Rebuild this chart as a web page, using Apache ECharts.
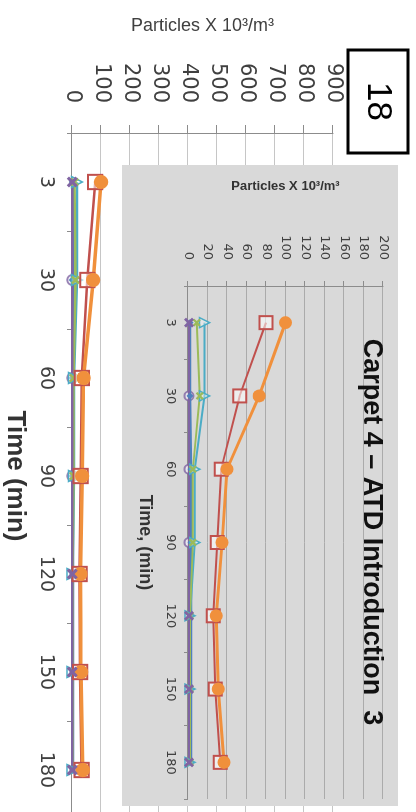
<!DOCTYPE html>
<html>
<head>
<meta charset="utf-8">
<script src="https://cdn.jsdelivr.net/npm/echarts@6/dist/echarts.min.js"></script>
<style>
  html, body { margin: 0; padding: 0; width: 416px; height: 812px; overflow: hidden; background: #fff; }
  /* the page is laid out sideways: the chart frame is 830 x 416 and turned a quarter clockwise */
  #frame {
    position: absolute; left: 0; top: 0; width: 830px; height: 416px;
    transform-origin: 0 0; transform: translate(416px, 0) rotate(90deg);
  }
  #main { position: absolute; left: 0; top: 0; width: 830px; height: 416px; }
  #inset { position: absolute; left: 165px; top: 18px; width: 641px; height: 276px; }
</style>
</head>
<body>
<div id="frame">
  <div id="main"></div>
  <div id="inset"></div>
</div>
<script>
// Sampling times (min)
const categories = ['3', '30', '60', '90', '120', '150', '180'];

// Particle counts (x 10^3 / m^3) per series
const blueLine      = [2, 2, 3, 3, 3, 3, 3];
const aquaTriangles = [17, 17, 7, 7, 2, 2, 2];
const greenCrosses  = [9, 12, 5, 5, 2, 2, 2];
const redSquares    = [80, 53, 34, 30, 26, 28, 33];
const orangeCircles = [100, 73, 40, 35, 29, 31, 37];
const purpleStars   = [1, null, null, null, 1, 1, 1];
const purpleCircles = [null, 1, 1, 1, null, null, null];

// Value-axis ranges
const mainMax = 900, mainStep = 100;
const insetMax = 200, insetStep = 20;

const pageTitle = '18';
const insetTitle = 'Carpet 4 \u2013 ATD Introduction  3';
const valueName = 'Particles X 10\u00B3/m\u00B3';

const C = {
  blue: '#4F81BD', red: '#C0504D', aqua: '#4BACC6',
  green: '#9BBB59', purple: '#8064A2', orange: '#F0903C'
};
const X_PATH = 'path://M2,0L5,3L8,0L10,2L7,5L10,8L8,10L5,7L2,10L0,8L3,5L0,2Z';

function buildSeries(k, lw) {
  return [
    { type: 'line', data: blueLine, symbol: 'diamond', symbolSize: 7 * k,
      lineStyle: { color: C.blue, width: lw + 0.5 }, itemStyle: { color: C.blue } },
    { type: 'line', data: aquaTriangles, symbol: 'triangle', symbolSize: 10 * k,
      lineStyle: { color: C.aqua, width: lw },
      itemStyle: { color: 'rgba(255,255,255,0.35)', borderColor: C.aqua, borderWidth: 1.5 } },
    { type: 'line', data: greenCrosses, symbol: X_PATH, symbolSize: 8 * k,
      lineStyle: { color: C.green, width: lw }, itemStyle: { color: C.green } },
    { type: 'line', data: redSquares, symbol: 'rect', symbolSize: 13 * k,
      lineStyle: { color: C.red, width: lw },
      itemStyle: { color: 'rgba(255,255,255,0.55)', borderColor: C.red, borderWidth: 2 } },
    { type: 'line', data: orangeCircles, symbol: 'circle', symbolSize: 13 * k,
      lineStyle: { color: C.orange, width: lw + 1 }, itemStyle: { color: C.orange } },
    { type: 'line', data: purpleStars, symbol: X_PATH, symbolSize: 10 * k, connectNulls: true,
      lineStyle: { color: C.purple, width: lw }, itemStyle: { color: C.purple } },
    { type: 'scatter', data: purpleCircles, symbol: 'circle', symbolSize: 9 * k,
      itemStyle: { color: '#ecebf2', borderColor: C.purple, borderWidth: 2 } }
  ];
}

// Large background chart
const main = echarts.init(document.getElementById('main'), null, { width: 830, height: 416, renderer: 'canvas' });
main.setOption({
  animation: false,
  backgroundColor: '#ffffff',
  grid: { left: 133, right: 11, top: 83, bottom: 72, outerBoundsMode: 'none', containLabel: false },
  xAxis: {
    type: 'category', data: categories, boundaryGap: true,
    axisLine: { lineStyle: { color: '#8c8c8c', width: 1 } },
    axisTick: { show: true, length: 5, interval: 0, lineStyle: { color: '#8c8c8c' } },
    axisLabel: { interval: 0, margin: 17, color: '#404040', fontFamily: 'DejaVu Sans', fontSize: 19 },
    name: 'Time (min)', nameLocation: 'middle', nameGap: 44,
    nameTextStyle: { color: '#333', fontFamily: 'Liberation Sans', fontWeight: 'bold', fontSize: 26 }
  },
  yAxis: {
    type: 'value', min: 0, max: mainMax, interval: mainStep,
    axisLine: { show: true, lineStyle: { color: '#8c8c8c' } },
    axisTick: { show: true, length: 8, lineStyle: { color: '#8c8c8c' } },
    splitLine: { lineStyle: { color: '#c6c6c6' } },
    axisLabel: { margin: 30, color: '#404040', fontFamily: 'DejaVu Sans', fontSize: 21 },
    name: valueName, nameLocation: 'middle', nameRotate: 90, nameGap: 98,
    nameTextStyle: { color: '#404040', fontFamily: 'Liberation Sans', fontSize: 18 }
  },
  graphic: [
    { type: 'rect', shape: { x: 50, y: 8, width: 103, height: 60 },
      style: { fill: '#fff', stroke: '#000', lineWidth: 3 } },
    { type: 'text', x: 101.5, y: 38,
      style: { text: pageTitle, fill: '#000', font: '35px "Liberation Sans"', align: 'center', verticalAlign: 'middle' } }
  ],
  series: buildSeries(1.1, 2.5)
});

// Inset chart on grey panel
const inset = echarts.init(document.getElementById('inset'), null, { width: 641, height: 276, renderer: 'canvas' });
inset.setOption({
  animation: false,
  backgroundColor: '#d9d9d9',
  title: {
    text: insetTitle, left: 367, top: 13, textAlign: 'center', padding: 0,
    textStyle: { color: '#111', fontFamily: 'Liberation Sans', fontWeight: 'bold', fontSize: 27 }
  },
  grid: { left: 121, right: 7, top: 15, bottom: 66, outerBoundsMode: 'none', containLabel: false },
  xAxis: {
    type: 'category', data: categories, boundaryGap: true,
    axisLine: { lineStyle: { color: '#8c8c8c' } },
    axisTick: { show: true, length: 4, interval: 0, lineStyle: { color: '#8c8c8c' } },
    axisLabel: { interval: 0, margin: 11, color: '#404040', fontFamily: 'DejaVu Sans', fontSize: 13 },
    name: 'Time, (min)', nameLocation: 'middle', nameGap: 34,
    nameTextStyle: { color: '#333', fontFamily: 'Liberation Sans', fontWeight: 'bold', fontSize: 18 }
  },
  yAxis: {
    type: 'value', min: 0, max: insetMax, interval: insetStep,
    axisLine: { show: true, lineStyle: { color: '#8c8c8c' } },
    axisTick: { show: true, length: 5, lineStyle: { color: '#8c8c8c' } },
    splitLine: { lineStyle: { color: '#ababab' } },
    axisLabel: { margin: 26, color: '#404040', fontFamily: 'DejaVu Sans', fontSize: 13 },
    name: valueName, nameLocation: 'middle', nameRotate: 90, nameGap: 93,
    nameTextStyle: { color: '#333', fontFamily: 'Liberation Sans', fontWeight: 'bold', fontSize: 13 }
  },
  series: buildSeries(1, 2)
});
</script>
</body>
</html>
